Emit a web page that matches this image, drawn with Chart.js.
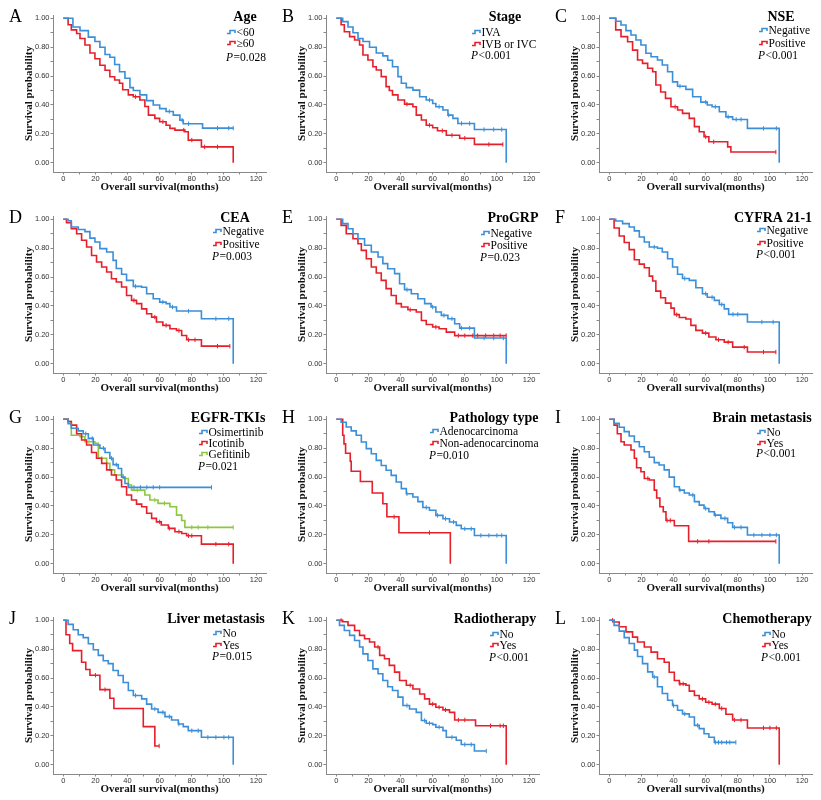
<!DOCTYPE html>
<html>
<head>
<meta charset="utf-8">
<script src="https://cdn.jsdelivr.net/npm/chart.js@4.4.1/dist/chart.umd.min.js"></script>
<style>
  body { margin: 0; background: #fff; }
  #fig { position: relative; width: 821px; height: 800px; }
  .panel { position: absolute; width: 273px; height: 200px; }
</style>
</head>
<body>
<div id="fig"></div>
<script>
// axis ticks
const xTickValues = [0, 10, 20, 30, 40, 50, 60, 70, 80, 90, 100, 110, 120];
const yTickValues = [0, 0.1, 0.2, 0.3, 0.4, 0.5, 0.6, 0.7, 0.8, 0.9, 1.0];

// Kaplan-Meier steps [months, survival] and censor times
// A  Age
const ageLt60 = [[0,1],[6,0.94],[10.4,0.915],[15.6,0.87],[19.7,0.84],[22.8,0.80],[26,0.75],[29,0.73],[32,0.68],[35,0.63],[38.4,0.585],[41.5,0.52],[43.6,0.50],[47.7,0.47],[51.9,0.43],[56,0.40],[60,0.375],[64,0.355],[68.5,0.33],[72.6,0.295],[74.7,0.27],[86.7,0.24],[105.8,0.24]];
const ageLt60Cens = [66, 74, 78, 96, 103, 105.8];
const ageGe60 = [[0,1],[3,0.955],[5,0.92],[8.3,0.895],[10.4,0.86],[13.5,0.815],[16.6,0.76],[19.7,0.72],[22.8,0.675],[26,0.64],[29,0.595],[32,0.573],[35,0.55],[37,0.505],[40.5,0.47],[43.6,0.457],[47.7,0.434],[50.8,0.39],[53,0.33],[57,0.307],[60,0.284],[64,0.26],[66.4,0.238],[69.5,0.226],[75.7,0.215],[77.8,0.157],[86,0.11],[105.8,0]];
const ageGe60Cens = [45, 62, 75, 80, 88, 96];
// B  Stage
const stageIVA = [[0,1],[4,0.977],[7.3,0.94],[10.4,0.90],[13.5,0.86],[16.6,0.84],[20.7,0.80],[24.9,0.76],[29,0.74],[32,0.71],[35,0.665],[38.4,0.596],[40.5,0.55],[43.6,0.52],[47.7,0.503],[51.9,0.457],[56,0.434],[60,0.41],[62,0.388],[66.4,0.365],[69.5,0.33],[72.6,0.307],[75.7,0.272],[86,0.23],[105.8,0]];
const stageIVACens = [58, 64, 70, 78, 83, 92, 98, 103];
const stageIVBC = [[0,1],[3,0.955],[5,0.907],[8.3,0.873],[11.4,0.85],[14.5,0.815],[16.6,0.746],[19.7,0.711],[22.8,0.665],[24.9,0.642],[28,0.596],[31,0.527],[33,0.5],[35,0.47],[38.4,0.434],[42.5,0.406],[47.7,0.388],[49.8,0.33],[53,0.296],[56,0.26],[60,0.242],[63,0.222],[68.5,0.19],[76.8,0.17],[86,0.127],[103.7,0.127]];
const stageIVBCCens = [44, 58, 66, 72, 80, 95, 103.7];
// C  NSE
const nseNeg = [[0,1],[4,0.98],[7.3,0.954],[10.4,0.915],[13.5,0.885],[16.6,0.85],[19.7,0.815],[22.8,0.758],[26,0.734],[30,0.711],[33,0.677],[36.3,0.63],[39.4,0.56],[42.5,0.53],[47.7,0.508],[51.9,0.457],[57,0.42],[61,0.40],[64,0.388],[68.5,0.353],[72.6,0.318],[76.8,0.30],[86,0.238],[105.8,0]];
const nseNegCens = [44, 60, 66, 74, 79, 82, 96, 104];
const nsePos = [[0,1],[4,0.92],[7.3,0.873],[11.4,0.838],[14.5,0.78],[17.6,0.711],[20.7,0.688],[23.9,0.654],[27,0.63],[29,0.538],[32,0.49],[35,0.446],[38.4,0.388],[42.5,0.365],[45.6,0.342],[49.8,0.307],[53,0.25],[56,0.215],[59,0.18],[62,0.145],[73.7,0.11],[75.7,0.074],[103.7,0.074]];
const nsePosCens = [41, 60, 65, 103.7];
// D  CEA
const ceaNeg = [[0,1],[3,0.99],[5,0.947],[9.3,0.93],[13.5,0.915],[16.6,0.87],[19.7,0.843],[22.8,0.797],[27,0.774],[31,0.716],[33,0.66],[36.3,0.62],[39.4,0.577],[43.6,0.536],[48.8,0.53],[51.9,0.485],[56,0.45],[60,0.427],[64,0.416],[66.4,0.393],[70.5,0.365],[86,0.312],[105.8,0]];
const ceaNegCens = [45, 62, 68, 78, 95, 103];
const ceaPos = [[0,1],[2,0.977],[5,0.935],[8.3,0.90],[11.4,0.855],[14.5,0.808],[17.6,0.75],[20.7,0.704],[23.9,0.67],[27,0.635],[30,0.589],[33,0.566],[36.3,0.531],[39.4,0.473],[42.5,0.439],[45.6,0.416],[48.8,0.38],[51.9,0.346],[55,0.323],[58,0.289],[62,0.266],[66.4,0.242],[70.5,0.23],[73.7,0.196],[76.8,0.166],[86,0.122],[103.7,0.122]];
const ceaPosCens = [44, 57, 64, 72, 78, 82, 96, 103.7];
// E  ProGRP
const grpNeg = [[0,1],[4,0.97],[7.3,0.935],[10.4,0.90],[13.5,0.866],[17.6,0.82],[21.8,0.774],[26,0.739],[29,0.693],[32,0.658],[36.3,0.624],[39.4,0.554],[42.5,0.513],[46.7,0.485],[50.8,0.45],[55,0.416],[59,0.393],[62,0.358],[65.4,0.335],[69.5,0.312],[73.7,0.277],[76.8,0.247],[86,0.178],[105.8,0]];
const grpNegCens = [44, 60, 67, 72, 78, 83, 92, 98, 104];
const grpPos = [[0,1],[3,0.958],[6.2,0.90],[10.4,0.866],[13.5,0.831],[15.6,0.785],[18.7,0.727],[21.8,0.67],[24.9,0.628],[28,0.577],[31,0.52],[34.2,0.473],[37.3,0.416],[40.5,0.393],[44.6,0.374],[49.8,0.358],[53,0.30],[56,0.272],[60,0.254],[64,0.242],[68.5,0.219],[73.7,0.195],[105.8,0.195]];
const grpPosCens = [46, 62, 76, 80, 85, 88, 93, 98, 102, 105.8];
// F  CYFRA 21-1
const cyfNeg = [[0,1],[4,0.988],[8.3,0.97],[12.4,0.947],[15.6,0.92],[18.7,0.878],[21.8,0.843],[24.9,0.808],[30,0.80],[33,0.774],[36.3,0.727],[39.4,0.67],[42.5,0.62],[45.6,0.59],[49.8,0.577],[53.9,0.526],[58,0.485],[61,0.46],[65.4,0.439],[68.5,0.41],[71.6,0.38],[74.3,0.342],[86,0.289],[105.8,0]];
const cyfNegCens = [28, 47, 60, 64, 70, 77, 80, 95, 102];
const cyfPos = [[0,1],[3,0.94],[6.2,0.885],[9.3,0.84],[12.4,0.79],[15.6,0.72],[18.7,0.69],[21.8,0.665],[24.9,0.607],[27,0.573],[29,0.503],[32,0.457],[35,0.42],[38.4,0.385],[40.5,0.34],[43.6,0.32],[47.7,0.31],[50.8,0.266],[53.9,0.231],[58,0.212],[62,0.185],[66.4,0.166],[71.6,0.15],[76.8,0.115],[86,0.081],[103.7,0.081]];
const cyfPosCens = [42, 60, 68, 74, 84, 96, 103.7];
// G  EGFR-TKIs
const osim = [[0,1],[3,0.97],[5,0.938],[9.3,0.92],[12.4,0.90],[15.6,0.868],[18.7,0.822],[22.8,0.80],[26,0.77],[29,0.73],[31,0.686],[34.2,0.66],[36.3,0.60],[38.4,0.556],[40.5,0.529],[92.3,0.529]];
const osimCens = [14, 18, 25, 30, 33, 44, 48, 52, 56, 60, 92.3];
const icot = [[0,1],[3,0.985],[5,0.96],[8.3,0.90],[11.4,0.857],[14.5,0.822],[17.6,0.77],[20.7,0.73],[23.9,0.695],[27,0.65],[30,0.614],[33,0.58],[36.3,0.533],[39.4,0.476],[42.5,0.441],[45.6,0.413],[48.8,0.395],[51.9,0.35],[55,0.314],[58,0.29],[61,0.268],[65.4,0.245],[69.5,0.222],[73.7,0.21],[76.8,0.194],[86,0.136],[105.8,0]];
const icotCens = [60, 66, 72, 78, 80, 95, 103];
const gefi = [[0,1],[3,0.985],[5,0.89],[10.4,0.88],[13.5,0.845],[19.7,0.834],[21.8,0.73],[27,0.695],[29,0.65],[32,0.614],[37.3,0.59],[40.5,0.545],[42.5,0.51],[50.8,0.476],[53.9,0.441],[59,0.418],[66.4,0.395],[70.5,0.337],[73.7,0.30],[75.7,0.252],[105.8,0.252]];
const gefiCens = [16, 24, 46, 57, 63, 80, 84, 90, 105.8];
// H  Pathology type
const adeno = [[0,1],[3,0.98],[6.2,0.947],[9.3,0.92],[12.4,0.89],[15.6,0.843],[18.7,0.797],[21.8,0.762],[24.9,0.716],[28,0.68],[31,0.647],[34.2,0.612],[37.3,0.566],[40.5,0.52],[43.6,0.485],[47.7,0.462],[50.8,0.43],[53.9,0.39],[58,0.37],[62,0.335],[66.4,0.312],[70.5,0.289],[74.7,0.266],[77.8,0.242],[86,0.196],[105.8,0]];
const adenoCens = [44, 56, 63, 68, 73, 80, 84, 90, 95, 100, 103];
const nonAdeno = [[0,1],[4,0.89],[4.8,0.83],[5.8,0.765],[8.7,0.71],[9.3,0.64],[15,0.57],[22.4,0.49],[29,0.415],[31.5,0.325],[39,0.215],[71,0]];
const nonAdenoCens = [36, 58];
// I  Brain metastasis
const brainNo = [[0,1],[3,0.972],[6.2,0.945],[9.3,0.915],[12.4,0.885],[15.6,0.845],[18.7,0.81],[21.8,0.776],[24.9,0.737],[28,0.70],[31,0.684],[34.2,0.65],[37.3,0.60],[40.5,0.533],[43.6,0.51],[46.7,0.49],[49.8,0.476],[53,0.43],[56,0.406],[59,0.383],[62,0.36],[65.4,0.337],[69.5,0.314],[73.7,0.284],[76.8,0.252],[86,0.199],[105.8,0]];
const brainNoCens = [44, 52, 60, 66, 72, 78, 82, 90, 95, 100, 104];
const brainYes = [[0,1],[3,0.96],[5,0.90],[7.3,0.845],[9.3,0.822],[13.5,0.788],[15.6,0.73],[17,0.665],[19.7,0.637],[21.8,0.59],[24.9,0.58],[28,0.51],[29.5,0.455],[31.5,0.395],[33.6,0.36],[35.3,0.30],[40.5,0.263],[49.4,0.155],[103.7,0.155]];
const brainYesCens = [24, 36, 38, 55, 62, 103.7];
// J  Liver metastasis
const liverNo = [[0,1],[3,0.972],[6.2,0.935],[9.3,0.90],[12.4,0.88],[15.6,0.838],[18.7,0.796],[21.8,0.757],[24.9,0.72],[28,0.70],[31,0.653],[34.2,0.618],[37.3,0.57],[40.5,0.514],[43.6,0.48],[48.8,0.456],[51.9,0.42],[55,0.386],[59,0.363],[63.3,0.333],[67.4,0.31],[71.6,0.282],[74.7,0.264],[77.8,0.236],[86,0.19],[105.8,0]];
const liverNoCens = [45, 57, 62, 66, 72, 80, 84, 90, 95, 100, 103];
const liverYes = [[0,1],[1.7,0.90],[4,0.84],[5.8,0.79],[11.4,0.71],[14,0.66],[16.6,0.62],[22.8,0.52],[29,0.46],[31.5,0.39],[49.8,0.264],[57,0.13],[59.7,0.13]];
const liverYesCens = [20, 26, 59.7];
// K  Radiotherapy
const radioNo = [[0,1],[2,0.965],[5,0.93],[8.3,0.896],[11.4,0.86],[14.5,0.815],[16.6,0.768],[19.7,0.722],[22.8,0.664],[26,0.63],[29,0.583],[32,0.54],[35,0.514],[38.4,0.468],[41.5,0.41],[45.6,0.386],[49.8,0.363],[53,0.306],[56,0.287],[60,0.278],[62,0.26],[66.4,0.236],[68.5,0.19],[74.7,0.17],[77.8,0.14],[86,0.095],[93.4,0.095]];
const radioNoCens = [44, 55, 58, 64, 72, 80, 84, 93.4];
const radioYes = [[0,1],[4,0.99],[7.3,0.965],[11.4,0.93],[14.5,0.896],[17.6,0.872],[20.7,0.85],[23.9,0.815],[27,0.757],[30,0.734],[33,0.688],[36.3,0.641],[39.4,0.583],[43.6,0.55],[47.7,0.525],[51.9,0.49],[55,0.456],[58,0.42],[62,0.398],[66.4,0.38],[70.5,0.363],[73.7,0.31],[86.7,0.27],[105.8,0]];
const radioYesCens = [3, 26, 46, 60, 64, 68, 76, 80, 96, 102, 104];
// L  Chemotherapy
const chemoNo = [[0,1],[3,0.965],[6.2,0.925],[9.3,0.88],[12.4,0.84],[15.6,0.794],[17.6,0.75],[20.7,0.70],[23.9,0.643],[27,0.608],[30,0.54],[33,0.493],[36.3,0.447],[39.4,0.41],[42.5,0.377],[45.6,0.352],[49.8,0.331],[53,0.273],[56,0.25],[59,0.215],[62,0.19],[65.4,0.155],[78.8,0.155]];
const chemoNoCens = [28, 40, 47, 55, 66, 68, 70, 73, 75, 78.8];
const chemoYes = [[0,1],[3,0.988],[6.2,0.955],[10.4,0.92],[14.5,0.884],[17.6,0.85],[21.8,0.815],[26,0.78],[30,0.734],[34.2,0.71],[37.3,0.64],[40.5,0.583],[43.6,0.56],[47.7,0.55],[49.8,0.51],[53,0.48],[56,0.456],[60,0.433],[64,0.42],[68.5,0.39],[72.6,0.35],[76.8,0.31],[86,0.255],[105.8,0]];
const chemoYesCens = [2, 44, 46, 58, 62, 66, 70, 78, 82, 96, 100, 104];

const BLUE = '#3a8fd8', RED = '#e61f2b', GREEN = '#8dc63f';
const SERIF = '"Liberation Serif", "Times New Roman", serif';
const SANS = '"Liberation Sans", Arial, sans-serif';
const rowTops = [0, 201, 401, 602];

const panels = [
  { letter: 'A', title: 'Age', p: '=0.028', lg: { tx: 245, ix: 227, rows: [32, 43], py: 57 },
    series: [{ name: '<60', color: BLUE, km: ageLt60, cens: ageLt60Cens }, { name: '\u226560', color: RED, km: ageGe60, cens: ageGe60Cens }] },
  { letter: 'B', title: 'Stage', p: '<0.001', lg: { tx: 232, ix: 199, rows: [32, 44], py: 55 },
    series: [{ name: 'IVA', color: BLUE, km: stageIVA, cens: stageIVACens }, { name: 'IVB or IVC', color: RED, km: stageIVBC, cens: stageIVBCCens }] },
  { letter: 'C', title: 'NSE', p: '<0.001', lg: { tx: 235, ix: 213, rows: [30, 43], py: 55 },
    series: [{ name: 'Negative', color: BLUE, km: nseNeg, cens: nseNegCens }, { name: 'Positive', color: RED, km: nsePos, cens: nsePosCens }] },
  { letter: 'D', title: 'CEA', p: '=0.003', lg: { tx: 235, ix: 213, rows: [30, 43], py: 55 },
    series: [{ name: 'Negative', color: BLUE, km: ceaNeg, cens: ceaNegCens }, { name: 'Positive', color: RED, km: ceaPos, cens: ceaPosCens }] },
  { letter: 'E', title: 'ProGRP', p: '=0.023', lg: { tx: 240, ix: 208, rows: [32, 44], py: 56 },
    series: [{ name: 'Negative', color: BLUE, km: grpNeg, cens: grpNegCens }, { name: 'Positive', color: RED, km: grpPos, cens: grpPosCens }] },
  { letter: 'F', title: 'CYFRA 21-1', p: '<0.001', lg: { tx: 227, ix: 211, rows: [29, 42], py: 53 },
    series: [{ name: 'Negative', color: BLUE, km: cyfNeg, cens: cyfNegCens }, { name: 'Positive', color: RED, km: cyfPos, cens: cyfPosCens }] },
  { letter: 'G', title: 'EGFR-TKIs', p: '=0.021', lg: { tx: 228, ix: 199, rows: [31, 42, 53], py: 65 },
    series: [{ name: 'Osimertinib', color: BLUE, km: osim, cens: osimCens }, { name: 'Icotinib', color: RED, km: icot, cens: icotCens }, { name: 'Gefitinib', color: GREEN, km: gefi, cens: gefiCens }] },
  { letter: 'H', title: 'Pathology type', p: '=0.010', lg: { tx: 221, ix: 157, rows: [30, 42], py: 54 },
    series: [{ name: 'Adenocarcinoma', color: BLUE, km: adeno, cens: adenoCens }, { name: 'Non-adenocarcinoma', color: RED, km: nonAdeno, cens: nonAdenoCens }] },
  { letter: 'I', title: 'Brain metastasis', p: '<0.001', lg: { tx: 216, ix: 211, rows: [31, 42], py: 52 },
    series: [{ name: 'No', color: BLUE, km: brainNo, cens: brainNoCens }, { name: 'Yes', color: RED, km: brainYes, cens: brainYesCens }] },
  { letter: 'J', title: 'Liver metastasis', p: '=0.015', lg: { tx: 216, ix: 213, rows: [31, 43], py: 54 },
    series: [{ name: 'No', color: BLUE, km: liverNo, cens: liverNoCens }, { name: 'Yes', color: RED, km: liverYes, cens: liverYesCens }] },
  { letter: 'K', title: 'Radiotherapy', p: '<0.001', lg: { tx: 222, ix: 217, rows: [32, 43], py: 55 },
    series: [{ name: 'No', color: BLUE, km: radioNo, cens: radioNoCens }, { name: 'Yes', color: RED, km: radioYes, cens: radioYesCens }] },
  { letter: 'L', title: 'Chemotherapy', p: '<0.001', lg: { tx: 221, ix: 216, rows: [32, 43], py: 55 },
    series: [{ name: 'No', color: BLUE, km: chemoNo, cens: chemoNoCens }, { name: 'Yes', color: RED, km: chemoYes, cens: chemoYesCens }] }
];

function survAt(km, t) {
  let s = 1;
  for (const [tt, ss] of km) { if (tt <= t) s = ss; else break; }
  return s;
}

// panel letter, group title, legend entries and P value
const kmLegend = {
  id: 'kmLegend',
  afterDraw(chart, args, o) {
    const ctx = chart.ctx, lg = o.lg;
    ctx.save();
    ctx.fillStyle = '#000';
    ctx.textBaseline = 'alphabetic';
    ctx.textAlign = 'left';
    ctx.font = '18px ' + SERIF;
    ctx.fillText(o.letter, 9, 22);
    ctx.textAlign = 'center';
    ctx.font = 'bold 14px ' + SERIF;
    ctx.fillText(o.title, lg.tx, 21);
    ctx.textAlign = 'left';
    ctx.font = '11.5px ' + SERIF;
    o.series.forEach((s, k) => {
      const y = lg.rows[k], x = lg.ix;
      ctx.strokeStyle = s.color;
      ctx.lineWidth = 1.6;
      ctx.beginPath();
      ctx.moveTo(x, y + 1.5); ctx.lineTo(x + 3, y + 1.5); ctx.lineTo(x + 3, y - 1.5);
      ctx.lineTo(x + 8, y - 1.5); ctx.lineTo(x + 8, y + 1);
      ctx.stroke();
      ctx.fillText(s.name, x + 9.5, y + 4);
    });
    ctx.font = 'italic 11.5px ' + SERIF;
    ctx.fillText('P', lg.ix - 1, lg.py + 4);
    const w = ctx.measureText('P').width;
    ctx.font = '11.5px ' + SERIF;
    ctx.fillText(o.p, lg.ix - 1 + w + 0.5, lg.py + 4);
    ctx.restore();
  }
};

const fig = document.getElementById('fig');
panels.forEach((p, i) => {
  const div = document.createElement('div');
  div.className = 'panel';
  div.style.left = (i % 3) * 273 + 'px';
  div.style.top = rowTops[Math.floor(i / 3)] + 'px';
  const cv = document.createElement('canvas');
  cv.width = 273; cv.height = 200;
  div.appendChild(cv);
  fig.appendChild(div);

  const datasets = [];
  p.series.forEach(s => {
    datasets.push({ label: s.name, data: s.km.map(([x, y]) => ({ x, y })), borderColor: s.color, borderWidth: 1.6,
      stepped: true, pointRadius: 0, fill: false });
    datasets.push({ label: s.name + ' censored', data: s.cens.map(t => ({ x: t, y: survAt(s.km, t) })), showLine: false,
      pointStyle: 'line', rotation: 90, pointRadius: 2.2, pointBorderWidth: 1, pointBorderColor: s.color, borderColor: s.color });
  });

  new Chart(cv, {
    type: 'line',
    data: { datasets },
    plugins: [kmLegend],
    options: {
      responsive: false, animation: false,
      layout: { padding: { top: 15, right: 7, left: 0, bottom: 0 } },
      plugins: { legend: { display: false }, tooltip: { enabled: false }, kmLegend: p },
      scales: {
        x: {
          type: 'linear', min: -6.4, max: 126.2,
          afterBuildTicks: s => { s.ticks = xTickValues.map(v => ({ value: v })); },
          afterFit: s => { s.height = 28; },
          ticks: { autoSkip: false, maxRotation: 0, padding: 0, color: '#333', font: { family: SANS, size: 7.5 },
            callback: v => (v % 20 === 0 ? String(v) : '') },
          grid: { drawOnChartArea: false, drawTicks: true, tickLength: 2.5, color: '#888' },
          border: { display: true, color: '#888', width: 1 },
          title: { display: true, text: 'Overall survival(months)', color: '#111',
            font: { family: SERIF, size: 11, weight: 'bold' }, padding: { top: 0, bottom: 6 } }
        },
        y: {
          type: 'linear', min: -0.064, max: 1.023,
          afterBuildTicks: s => { s.ticks = yTickValues.map(v => ({ value: v })); },
          afterFit: s => { s.width = 53; },
          ticks: { autoSkip: false, padding: 1, color: '#333', font: { family: SANS, size: 7.5 },
            callback: v => (Math.round(v * 10) % 2 === 0 ? v.toFixed(2) : '') },
          grid: { drawOnChartArea: false, drawTicks: true, tickLength: 2.5, color: '#888' },
          border: { display: true, color: '#888', width: 1 },
          title: { display: true, text: 'Survival probability', color: '#111',
            font: { family: SERIF, size: 11, weight: 'bold' }, padding: { top: 23, bottom: 0 } }
        }
      }
    }
  });
});
</script>
</body>
</html>
